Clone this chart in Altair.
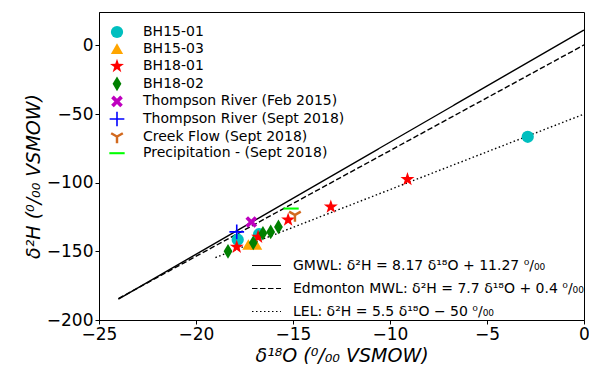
import math
import altair as alt
import pandas as pd

# ---------------- data ----------------
series_names = [
    "BH15-01", "BH15-03", "BH18-01", "BH18-02",
    "Thompson River (Feb 2015)", "Thompson River (Sept 2018)",
    "Creek Flow (Sept 2018)", "Precipitation - (Sept 2018)",
]
series_colors = ["#00BFBF", "#FFA500", "#FF0000", "#008000",
                 "#BF00BF", "#0000FF", "#D2691E", "#00FF00"]

bh1501_x = [-2.9, -17.85, -16.75]
bh1501_y = [-66.5, -141.5, -137.5]
bh1503_x = [-17.3, -16.9]
bh1503_y = [-145.0, -145.0]
bh1801_x = [-9.1, -13.05, -15.25, -17.9, -16.8]
bh1801_y = [-97.5, -117.5, -127.0, -146.8, -139.5]
bh1802_x = [-18.35, -17.05, -16.55, -16.15, -15.75]
bh1802_y = [-150.0, -143.8, -136.8, -135.8, -132.2]
tr2015_x = [-17.15]
tr2015_y = [-128.6]
tr2018_x = [-17.9]
tr2018_y = [-135.8]
creek_x = [-14.9]
creek_y = [-123.5]
precip_x = [-15.1]
precip_y = [-118.8]

line_labels = [
    "GMWL: δ²H = 8.17 δ¹⁸O + 11.27 ⁰/₀₀",
    "Edmonton MWL: δ²H = 7.7 δ¹⁸O + 0.4 ⁰/₀₀",
    "LEL: δ²H = 5.5 δ¹⁸O − 50 ⁰/₀₀",
]
gmwl_x = [-24.0, 0.0]
gmwl_y = [-184.81, 11.27]
edm_x = [-24.0, 0.0]
edm_y = [-184.4, 0.4]
lel_x = [-19.0, 0.0]
lel_y = [-154.5, -50.0]

x_ticks = [-25, -20, -15, -10, -5, 0]
y_ticks = [-200, -150, -100, -50, 0]

# ---------------- marker shapes ----------------
def poly(pts):
    return "M" + "L".join(f"{x:.3f},{y:.3f}" for x, y in pts) + "Z"

def star(r_out=1.2, r_in=0.47):
    pts = []
    for i in range(10):
        r = r_out if i % 2 == 0 else r_in
        a = -math.pi / 2 + i * math.pi / 5
        pts.append((r * math.cos(a), r * math.sin(a)))
    return poly(pts)

def plus(t, L=1.0, rot=0.0):
    base = [(-t, -L), (t, -L), (t, -t), (L, -t), (L, t), (t, t), (t, L),
            (-t, L), (-t, t), (-L, t), (-L, -t), (-t, -t)]
    c, s = math.cos(rot), math.sin(rot)
    return poly([(x * c - y * s, x * s + y * c) for x, y in base])

def tri_down(w=0.2, L=1.1):
    pts = []
    for a_deg in (90, 210, 330):
        a = math.radians(a_deg)
        ai = math.radians(a_deg - 60)
        r = w / math.sin(math.radians(60))
        pts.append((r * math.cos(ai), r * math.sin(ai)))
        d = (math.cos(a), math.sin(a))
        p = (-math.sin(a), math.cos(a))
        pts.append((L * d[0] - w * p[0], L * d[1] - w * p[1]))
        pts.append((L * d[0] + w * p[0], L * d[1] + w * p[1]))
    return poly(pts)

series_shapes = [
    "circle",
    "triangle-up",
    star(),
    "M0,-1.2L0.72,0L0,1.2L-0.72,0Z",
    plus(0.3, 1.05, math.pi / 4),
    plus(0.13, 1.2),
    tri_down(),
    "M-1.25,-0.17L1.25,-0.17L1.25,0.17L-1.25,0.17Z",
]

# ---------------- tables ----------------
all_x = [bh1501_x, bh1503_x, bh1801_x, bh1802_x, tr2015_x, tr2018_x, creek_x, precip_x]
all_y = [bh1501_y, bh1503_y, bh1801_y, bh1802_y, tr2015_y, tr2018_y, creek_y, precip_y]
rows = []
idx = 0
for name, xs, ys in zip(series_names, all_x, all_y):
    for xv, yv in zip(xs, ys):
        rows.append({"x": xv, "y": yv, "series": name, "idx": idx})
        idx += 1
points_df = pd.DataFrame(rows)

lrows = []
for lab, xs, ys in zip(line_labels, [gmwl_x, edm_x, lel_x], [gmwl_y, edm_y, lel_y]):
    for xv, yv in zip(xs, ys):
        lrows.append({"x": xv, "y": yv, "line": lab})
lines_df = pd.DataFrame(lrows)

# ---------------- chart ----------------
FONT = "DejaVu Sans"
x_scale = alt.Scale(domain=[-25, 0], nice=False, zero=False)
y_scale = alt.Scale(domain=[-200, 24.4], nice=False, zero=False)

x_axis = alt.Axis(values=x_ticks, title="δ¹⁸O (⁰/₀₀ VSMOW)", titleFontStyle="italic",
                  labelFlush=False, labelOverlap=False, grid=False, titlePadding=4)
y_axis = alt.Axis(values=y_ticks, title="δ²H (⁰/₀₀ VSMOW)", titleFontStyle="italic",
                  labelFlush=False, labelOverlap=False, grid=False, titlePadding=3,
                  titleY=164)

lines = alt.Chart(lines_df).mark_line(color="black", strokeWidth=1.4).encode(
    x=alt.X("x:Q", scale=x_scale, axis=x_axis),
    y=alt.Y("y:Q", scale=y_scale, axis=y_axis),
    strokeDash=alt.StrokeDash(
        "line:N",
        scale=alt.Scale(domain=line_labels, range=[[1, 0], [5.5, 2.5], [1.5, 2.5]]),
        legend=alt.Legend(
            title=None, orient="none", legendX=152, legendY=238,
            symbolType="stroke", symbolSize=841, symbolStrokeColor="black",
            symbolStrokeWidth=1.1, labelFontSize=14, labelFont=FONT,
            labelColor="black", labelOffset=11, rowPadding=-7, padding=0,
            labelLimit=0,
        ),
    ),
)

pt_legend = alt.Legend(
    title=None, orient="none", legendX=11, legendY=13,
    symbolSize=150, labelFontSize=14, labelFont=FONT, labelColor="black",
    labelOffset=19, rowPadding=2.6, padding=0, symbolStrokeWidth=0,
    symbolOpacity=1, labelLimit=0,
)

points = alt.Chart(points_df).mark_point(filled=True, size=150, opacity=1, strokeWidth=0).encode(
    x=alt.X("x:Q", scale=x_scale),
    y=alt.Y("y:Q", scale=y_scale),
    color=alt.Color("series:N", scale=alt.Scale(domain=series_names, range=series_colors),
                    legend=pt_legend),
    shape=alt.Shape("series:N", scale=alt.Scale(domain=series_names, range=series_shapes),
                    legend=pt_legend),
    order=alt.Order("idx:Q"),
)

chart = alt.layer(lines, points).properties(
    width=485, height=308,
    autosize=alt.AutoSizeParams(type="none"),
    padding={"left": 91, "top": 4, "right": 5, "bottom": 44},
).configure_view(
    stroke="black", strokeWidth=1,
).configure_axis(
    labelFont=FONT, titleFont=FONT, labelFontSize=17, titleFontSize=19,
    labelColor="black", titleColor="black", tickColor="black", domainColor="black",
    tickSize=4, tickWidth=1, domainWidth=1, titleFontWeight="normal",
)

chart.save("out.html", embed_options={"renderer": "svg", "actions": False})
